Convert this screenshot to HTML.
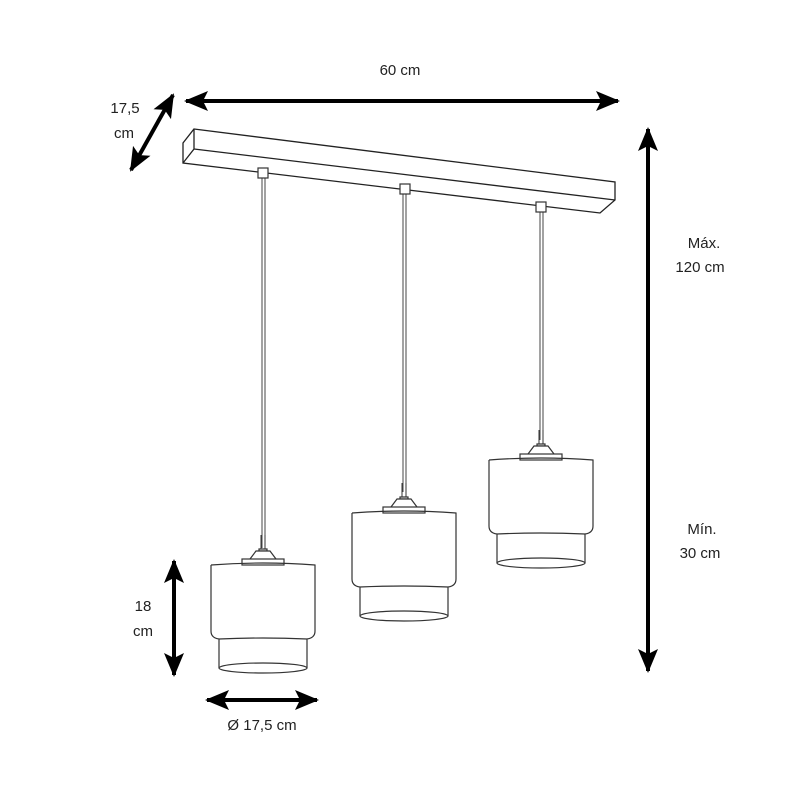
<!DOCTYPE html>
<html><head><style>body{margin:0;background:#fff}svg{display:block}text{font-family:"Liberation Sans",sans-serif;font-size:15px;fill:#222}</style></head>
<body>
<svg width="800" height="800" viewBox="0 0 800 800">
<defs>
<marker id="a" markerWidth="24" markerHeight="22" refX="22" refY="11" orient="auto-start-reverse" markerUnits="userSpaceOnUse" viewBox="0 0 24 22"><path d="M0,1 L24,11 L0,21 L5,11z" fill="#000"/></marker>
<g id="p" fill="none" stroke="#333" stroke-width="1.2">
<path d="M-2,-30 V-15 M2,-30 V-15" stroke-width="1"/>
<path d="M-4,-16 H4 L4,-14 H-4z" fill="#fff"/>
<path d="M-13,-6 L-7,-14 H7 L13,-6" fill="#fff"/>
<rect x="-21" y="-6" width="42" height="6" fill="#fff"/>
<path d="M-52,0 Q0,-4 52,0 V66 Q52,73 44,74 V103 M-52,0 V66 Q-52,73 -44,74 V103 M-44,74 Q0,72 44,74"/>
<ellipse cx="0" cy="103" rx="44" ry="5"/>
</g>
</defs>
<g fill="none" stroke="#222" stroke-width="1.3">
<path d="M194,129 L615,182 L615,200 L600,213 L183,163 L183,143 Z"/>
<path d="M194,129 V149 L183,163 M194,149 L615,200"/>
</g>
<path d="M262,172 V548 M265,172 V548" stroke="#444" stroke-width="1"/>
<path d="M403,190 V492 M406,190 V492" stroke="#444" stroke-width="1"/>
<path d="M540,208 V440 M543,208 V440" stroke="#444" stroke-width="1"/>
<g fill="#fff" stroke="#333" stroke-width="1.2">
<rect x="258" y="168" width="10" height="10"/>
<rect x="400" y="184" width="10" height="10"/>
<rect x="536" y="202" width="10" height="10"/>
</g>
<use href="#p" transform="translate(263,565)"/>
<use href="#p" transform="translate(404,513)"/>
<use href="#p" transform="translate(541,460)"/>
<g stroke="#000" stroke-width="4" marker-start="url(#a)" marker-end="url(#a)">
<line x1="186" y1="101" x2="618" y2="101"/>
<line x1="173" y1="95" x2="131" y2="170"/>
<line x1="648" y1="129" x2="648" y2="671"/>
<line x1="174" y1="561" x2="174" y2="675"/>
<line x1="207" y1="700" x2="317" y2="700"/>
</g>
<text x="125" y="113" text-anchor="middle">17,5</text>
<text x="124" y="138" text-anchor="middle">cm</text>
<text x="400" y="75" text-anchor="middle">60 cm</text>
<text x="704" y="248" text-anchor="middle">Máx.</text>
<text x="700" y="272" text-anchor="middle">120 cm</text>
<text x="702" y="534" text-anchor="middle">Mín.</text>
<text x="700" y="558" text-anchor="middle">30 cm</text>
<text x="143" y="611" text-anchor="middle">18</text>
<text x="143" y="636" text-anchor="middle">cm</text>
<text x="262" y="730" text-anchor="middle">Ø 17,5 cm</text>
</svg>
</body></html>
